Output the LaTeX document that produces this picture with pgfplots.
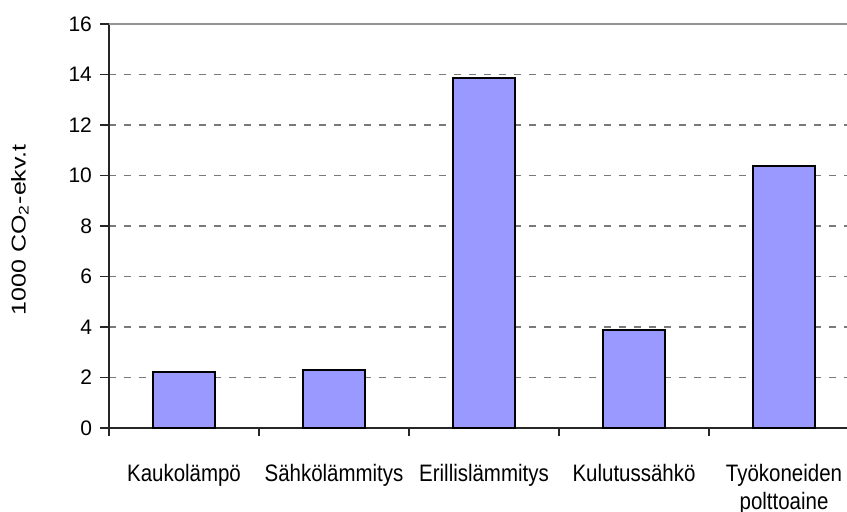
\documentclass[border=0pt]{standalone}
\usepackage{fontspec}
\setmainfont{Liberation Sans}
\newfontfamily\xlabfont[FakeStretch=0.86]{Liberation Sans}
\newfontfamily\ylabfont[FakeStretch=1.25]{Liberation Sans}
\usepackage{pgfplots}
\pgfplotsset{compat=1.18}
\definecolor{barblue}{RGB}{153,153,255}
\begin{document}
\begin{tikzpicture}
\useasboundingbox (0,0) rectangle (423.5pt,255.5pt);
\begin{axis}[
  at={(54.5pt,41.5pt)}, anchor=south west,
  scale only axis, width=369pt, height=202pt,
  xmin=-0.5, xmax=4.42, ymin=0, ymax=16,
  axis x line*=bottom, axis y line*=left,
  axis line style={black!85, line width=0.6pt},
  ytick={0,2,...,14},
  extra y ticks={16},
  extra y tick style={grid=major, major grid style={solid, gray!85, line width=0.9pt}},
  ymajorgrids,
  major grid style={dash pattern=on 3.5pt off 4pt, gray!95!black, line width=0.6pt},
  xtick={0,1,2,3,4},
  xticklabels={Kaukolämpö, Sähkölämmitys, Erillislämmitys, Kulutussähkö, {\begin{tabular}[t]{@{}c@{}}Työkoneiden\\polttoaine\end{tabular}}},
  minor xtick={-0.5,0.5,1.5,2.5,3.5},
  tick align=outside,
  major tick length=4.5pt,
  minor tick length=4pt,
  x tick style={draw=none},
  minor x tick style={draw=black!85, line width=0.6pt},
  y tick style={black!85, line width=0.6pt},
  xticklabel style={anchor=base, yshift=-22pt, font=\xlabfont\fontsize{11.9}{14}\selectfont},
  yticklabel style={font=\fontsize{10.5}{12}\selectfont, xshift=-0.5pt},
  /pgf/number format/assume math mode=true,
  ylabel={1000 CO\textsubscript{2}-ekv.t},
  ylabel style={at={(axis description cs:-0.1206,0.49)}, anchor=center, font=\ylabfont\fontsize{10}{12}\selectfont},
]
\addplot[ybar, bar width=31pt, fill=barblue, draw=black, line width=0.8pt]
  coordinates {(0,2.22) (1,2.29) (2,13.85) (3,3.87) (4,10.37)};
\end{axis}
\end{tikzpicture}
\end{document}
